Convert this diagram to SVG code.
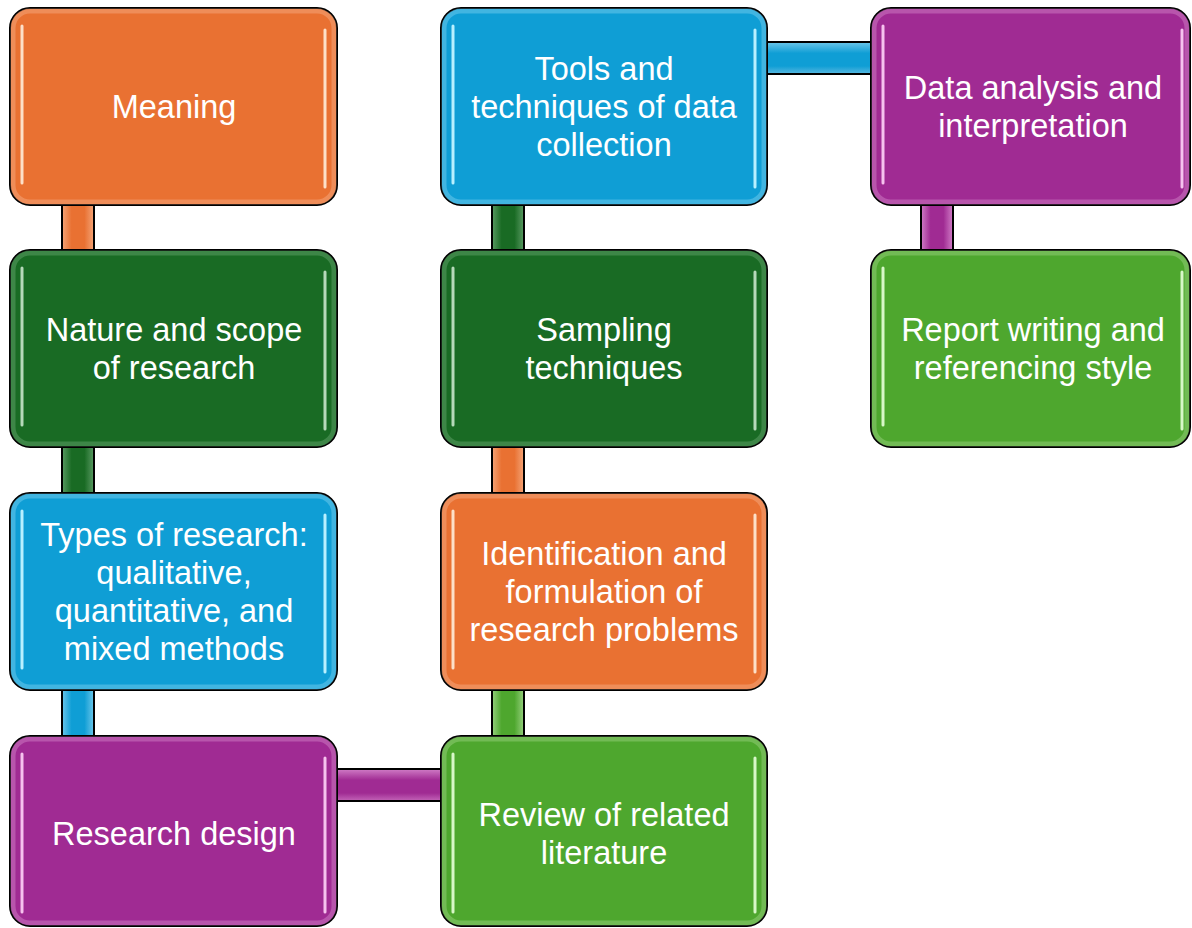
<svg xmlns="http://www.w3.org/2000/svg" width="1192" height="928" viewBox="0 0 1192 928">
<defs>
<style>
.box{stroke:#000;stroke-width:2}
.conn{stroke:#000;stroke-width:2}
.hl{stroke-width:3;stroke-linecap:round;fill:none}
.glow{fill:none;stroke-width:5;stroke-opacity:0.45}
text{font-family:"Liberation Sans",Arial,sans-serif;font-size:32.5px;fill:#fff;text-anchor:middle}
</style>
<linearGradient id="vOrange" x1="0" x2="1" y1="0" y2="0"><stop offset="0" stop-color="#f4a477"/><stop offset="0.3" stop-color="#E97132"/><stop offset="0.7" stop-color="#E97132"/><stop offset="1" stop-color="#f4a477"/></linearGradient>
<linearGradient id="vDkGreen" x1="0" x2="1" y1="0" y2="0"><stop offset="0" stop-color="#5a9a63"/><stop offset="0.3" stop-color="#196B24"/><stop offset="0.7" stop-color="#196B24"/><stop offset="1" stop-color="#5a9a63"/></linearGradient>
<linearGradient id="vBlue" x1="0" x2="1" y1="0" y2="0"><stop offset="0" stop-color="#6cc6ea"/><stop offset="0.3" stop-color="#0F9ED5"/><stop offset="0.7" stop-color="#0F9ED5"/><stop offset="1" stop-color="#6cc6ea"/></linearGradient>
<linearGradient id="vGreen" x1="0" x2="1" y1="0" y2="0"><stop offset="0" stop-color="#96d07e"/><stop offset="0.3" stop-color="#4EA72E"/><stop offset="0.7" stop-color="#4EA72E"/><stop offset="1" stop-color="#96d07e"/></linearGradient>
<linearGradient id="vPurple" x1="0" x2="1" y1="0" y2="0"><stop offset="0" stop-color="#d07cc6"/><stop offset="0.3" stop-color="#A02B93"/><stop offset="0.7" stop-color="#A02B93"/><stop offset="1" stop-color="#d07cc6"/></linearGradient>
<linearGradient id="hBlue" x1="0" x2="0" y1="0" y2="1"><stop offset="0" stop-color="#6cc6ea"/><stop offset="0.35" stop-color="#0F9ED5"/><stop offset="0.75" stop-color="#0F9ED5"/><stop offset="1" stop-color="#5ab8e0"/></linearGradient>
<linearGradient id="hPurple" x1="0" x2="0" y1="0" y2="1"><stop offset="0" stop-color="#d07cc6"/><stop offset="0.35" stop-color="#A02B93"/><stop offset="0.75" stop-color="#A02B93"/><stop offset="1" stop-color="#c465b8"/></linearGradient>
</defs>

<g id="connectors">
<rect class="conn" x="62" y="204" width="32" height="47" fill="url(#vOrange)"/>
<rect class="conn" x="62" y="446" width="32" height="48" fill="url(#vDkGreen)"/>
<rect class="conn" x="62" y="689" width="32" height="48" fill="url(#vBlue)"/>
<rect class="conn" x="336" y="769" width="106" height="32" fill="url(#hPurple)"/>
<rect class="conn" x="492" y="689" width="32" height="48" fill="url(#vGreen)"/>
<rect class="conn" x="492" y="446" width="32" height="48" fill="url(#vOrange)"/>
<rect class="conn" x="492" y="204" width="32" height="47" fill="url(#vDkGreen)"/>
<rect class="conn" x="766" y="42" width="106" height="32" fill="url(#hBlue)"/>
<rect class="conn" x="921" y="204" width="32" height="47" fill="url(#vPurple)"/>
</g>

<g id="n-meaning">
<rect class="box" x="10" y="8" width="327" height="197" rx="20" fill="#E97132"/>
<rect class="glow" x="13" y="11" width="321" height="191" rx="17" stroke="#f6b08a"/>
<line class="hl" x1="22" y1="26" x2="22" y2="183" stroke="#fde0c8"/>
<line class="hl" x1="325" y1="30" x2="325" y2="187" stroke="#fde0c8"/>
<text x="174" y="118">Meaning</text>
</g>

<g id="n-nature">
<rect class="box" x="10" y="250" width="327" height="197" rx="20" fill="#196B24"/>
<rect class="glow" x="13" y="253" width="321" height="191" rx="17" stroke="#6aa873"/>
<line class="hl" x1="22" y1="268" x2="22" y2="425" stroke="#b6d9ba"/>
<line class="hl" x1="325" y1="272" x2="325" y2="429" stroke="#b6d9ba"/>
<text x="174" y="341">Nature and scope</text>
<text x="174" y="379">of research</text>
</g>

<g id="n-types">
<rect class="box" x="10" y="493" width="327" height="197" rx="20" fill="#0F9ED5"/>
<rect class="glow" x="13" y="496" width="321" height="191" rx="17" stroke="#7fd0f0"/>
<line class="hl" x1="22" y1="511" x2="22" y2="668" stroke="#b8f0ff"/>
<line class="hl" x1="325" y1="515" x2="325" y2="672" stroke="#b8f0ff"/>
<text x="174" y="546">Types of research:</text>
<text x="174" y="584">qualitative,</text>
<text x="174" y="622">quantitative, and</text>
<text x="174" y="660">mixed methods</text>
</g>

<g id="n-design">
<rect class="box" x="10" y="736" width="327" height="190" rx="20" fill="#A02B93"/>
<rect class="glow" x="13" y="739" width="321" height="184" rx="17" stroke="#d58acb"/>
<line class="hl" x1="22" y1="754" x2="22" y2="912" stroke="#f6c2ee"/>
<line class="hl" x1="325" y1="758" x2="325" y2="912" stroke="#f6c2ee"/>
<text x="174" y="845">Research design</text>
</g>

<g id="n-review">
<rect class="box" x="441" y="736" width="326" height="190" rx="20" fill="#4EA72E"/>
<rect class="glow" x="444" y="739" width="320" height="184" rx="17" stroke="#9fd585"/>
<line class="hl" x1="453" y1="754" x2="453" y2="912" stroke="#d8f7c8"/>
<line class="hl" x1="755" y1="758" x2="755" y2="912" stroke="#d8f7c8"/>
<text x="604" y="826">Review of related</text>
<text x="604" y="864">literature</text>
</g>

<g id="n-identification">
<rect class="box" x="441" y="493" width="326" height="197" rx="20" fill="#E97132"/>
<rect class="glow" x="444" y="496" width="320" height="191" rx="17" stroke="#f6b08a"/>
<line class="hl" x1="453" y1="511" x2="453" y2="668" stroke="#fde0c8"/>
<line class="hl" x1="755" y1="515" x2="755" y2="672" stroke="#fde0c8"/>
<text x="604" y="565">Identification and</text>
<text x="604" y="603">formulation of</text>
<text x="604" y="641">research problems</text>
</g>

<g id="n-sampling">
<rect class="box" x="441" y="250" width="326" height="197" rx="20" fill="#196B24"/>
<rect class="glow" x="444" y="253" width="320" height="191" rx="17" stroke="#6aa873"/>
<line class="hl" x1="453" y1="268" x2="453" y2="425" stroke="#b6d9ba"/>
<line class="hl" x1="755" y1="272" x2="755" y2="429" stroke="#b6d9ba"/>
<text x="604" y="341">Sampling</text>
<text x="604" y="379">techniques</text>
</g>

<g id="n-tools">
<rect class="box" x="441" y="8" width="326" height="197" rx="20" fill="#0F9ED5"/>
<rect class="glow" x="444" y="11" width="320" height="191" rx="17" stroke="#7fd0f0"/>
<line class="hl" x1="453" y1="26" x2="453" y2="183" stroke="#b8f0ff"/>
<line class="hl" x1="755" y1="30" x2="755" y2="187" stroke="#b8f0ff"/>
<text x="604" y="80">Tools and</text>
<text x="604" y="118">techniques of data</text>
<text x="604" y="156">collection</text>
</g>

<g id="n-analysis">
<rect class="box" x="871" y="8" width="319" height="197" rx="20" fill="#A02B93"/>
<rect class="glow" x="874" y="11" width="313" height="191" rx="17" stroke="#d58acb"/>
<line class="hl" x1="883" y1="26" x2="883" y2="183" stroke="#f6c2ee"/>
<line class="hl" x1="1182" y1="30" x2="1182" y2="187" stroke="#f6c2ee"/>
<text x="1033" y="99">Data analysis and</text>
<text x="1033" y="137">interpretation</text>
</g>

<g id="n-report">
<rect class="box" x="871" y="250" width="319" height="197" rx="20" fill="#4EA72E"/>
<rect class="glow" x="874" y="253" width="313" height="191" rx="17" stroke="#9fd585"/>
<line class="hl" x1="883" y1="268" x2="883" y2="425" stroke="#d8f7c8"/>
<line class="hl" x1="1182" y1="272" x2="1182" y2="429" stroke="#d8f7c8"/>
<text x="1033" y="341">Report writing and</text>
<text x="1033" y="379">referencing style</text>
</g>
</svg>
